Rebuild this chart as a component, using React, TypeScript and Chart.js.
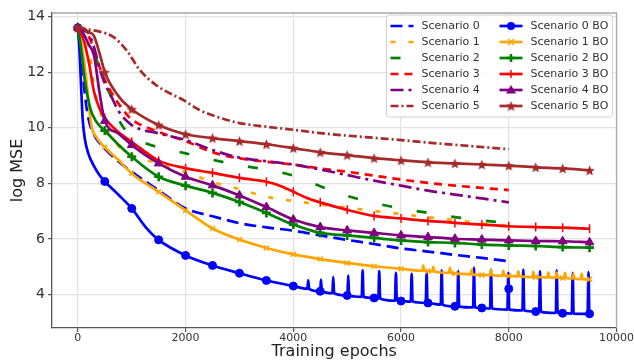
import React, { useEffect, useRef } from 'react';
import { Chart, registerables } from 'chart.js';

Chart.register(...registerables);

// ---------- tick labels ----------
const xTickValues = [0, 2000, 4000, 6000, 8000, 10000];
const yTickValues = [4, 6, 8, 10, 12, 14];

// ---------- plain scenarios (no markers, end at 8000) ----------
const s0Epochs = [0, 50, 100, 150, 200, 300, 500, 750, 1000, 1500, 2000, 2500, 3000, 3500, 4000, 4500, 5000, 5500, 6000, 6500, 7000, 7500, 8000];
const s0Values = [13.6, 12.9, 11.8, 10.9, 10.3, 9.75, 9.25, 8.8, 8.42, 7.75, 7.1, 6.82, 6.57, 6.42, 6.3, 6.13, 5.97, 5.82, 5.66, 5.55, 5.43, 5.32, 5.2];

const s1Epochs = [0, 100, 150, 200, 250, 300, 400, 500, 750, 1000, 1500, 2000, 2500, 3000, 3500, 4000, 4500, 5000, 5500, 6000, 6500, 7000, 7500, 8000];
const s1Values = [13.6, 13.5, 13.3, 12.9, 12.3, 11.5, 10.7, 10.1, 9.35, 9.02, 8.72, 8.4, 8.05, 7.8, 7.52, 7.37, 7.24, 7.13, 7.01, 6.9, 6.78, 6.68, 6.56, 6.48];

const s2Epochs = [0, 100, 200, 300, 400, 500, 600, 800, 1000, 1250, 1500, 2000, 2500, 3000, 3500, 4000, 4500, 5000, 5500, 6000, 6500, 7000, 7500, 8000];
const s2Values = [13.6, 13.55, 13.3, 12.8, 12.1, 11.6, 11.2, 10.15, 9.75, 9.45, 9.3, 9.08, 8.85, 8.65, 8.5, 8.28, 7.9, 7.55, 7.3, 7.1, 6.94, 6.79, 6.67, 6.57];

const s3Epochs = [0, 200, 300, 400, 500, 600, 750, 900, 1000, 1500, 2000, 2500, 3000, 3500, 4000, 4500, 5000, 5500, 6000, 6500, 7000, 7500, 8000];
const s3Values = [13.6, 13.3, 12.8, 12.2, 11.72, 11.35, 10.88, 10.5, 10.3, 9.85, 9.52, 9.12, 8.9, 8.78, 8.68, 8.54, 8.42, 8.28, 8.14, 8.02, 7.92, 7.84, 7.76];

const s4Epochs = [0, 200, 300, 400, 500, 600, 750, 1000, 1500, 2000, 2500, 3000, 3500, 4000, 4500, 5000, 5500, 6000, 6500, 7000, 7500, 8000];
const s4Values = [13.6, 13.4, 12.9, 12.15, 11.6, 11.22, 10.62, 10.1, 9.8, 9.56, 9.2, 8.93, 8.8, 8.68, 8.5, 8.3, 8.1, 7.92, 7.74, 7.6, 7.46, 7.32];

const s5Epochs = [0, 150, 400, 650, 900, 1150, 1450, 2000, 2250, 2500, 3000, 3500, 4000, 4500, 5000, 5500, 6000, 6500, 7000, 7500, 8000];
const s5Values = [13.6, 13.55, 13.46, 13.28, 12.8, 12.08, 11.54, 10.95, 10.65, 10.45, 10.17, 10.04, 9.93, 9.81, 9.72, 9.64, 9.56, 9.47, 9.39, 9.31, 9.23];

// ---------- BO scenarios (markers every 500 epochs, end at 9500) ----------
const b0Epochs = [0, 30, 60, 90, 130, 190, 300, 400, 500, 750, 1000, 1250, 1500, 2000, 2500, 3000, 3500, 4000, 4500, 5000, 5500, 6000, 6500, 7000, 7500, 8000, 8500, 9000, 9500];
const b0Values = [13.6, 12.8, 11.5, 10.3, 9.6, 9.1, 8.62, 8.3, 8.07, 7.6, 7.1, 6.45, 5.97, 5.41, 5.05, 4.77, 4.51, 4.31, 4.12, 3.97, 3.88, 3.77, 3.7, 3.58, 3.52, 4.21, 3.39, 3.33, 3.31];
const b0SpikeEpochs = [4277, 4513, 4741, 5020, 5287, 5595, 5905, 6197, 6475, 6754, 7062, 7354, 7670, 7991, 8270, 8580, 8890, 9187, 9480];
const b0SpikeBase = [4.21, 4.12, 4.05, 3.97, 3.92, 3.86, 3.78, 3.75, 3.7, 3.64, 3.57, 3.54, 3.5, 3.46, 3.43, 3.38, 3.34, 3.32, 3.31];
const b0SpikeTip = [4.51, 4.54, 4.63, 4.69, 4.87, 4.85, 4.78, 4.75, 4.78, 4.87, 4.85, 4.97, 4.9, 4.78, 4.9, 4.85, 4.87, 4.78, 4.81];

const b1Epochs = [0, 50, 100, 160, 250, 350, 500, 750, 1000, 1500, 2000, 2500, 3000, 3500, 4000, 4500, 5000, 5500, 6000, 6500, 7000, 7500, 8000, 8500, 9000, 9500];
const b1Values = [13.6, 13.2, 12.6, 11.7, 10.1, 9.65, 9.3, 8.85, 8.36, 7.7, 7.03, 6.38, 5.98, 5.68, 5.45, 5.28, 5.14, 5.02, 4.93, 4.85, 4.76, 4.71, 4.67, 4.63, 4.6, 4.55];
const b1SpikeEpochs = [6413, 6598, 6908, 7311, 7670, 7898, 8177, 8456, 8735, 8890, 9044, 9198, 9354];
const b1SpikeBase = [4.86, 4.83, 4.78, 4.73, 4.7, 4.68, 4.66, 4.63, 4.62, 4.61, 4.6, 4.58, 4.56];
const b1SpikeTip = [5.04, 5.0, 4.96, 4.9, 4.88, 4.86, 4.84, 4.82, 4.8, 4.79, 4.78, 4.76, 4.75];

const b2Epochs = [0, 50, 130, 230, 350, 500, 750, 1000, 1500, 2000, 2500, 3000, 3500, 4000, 4500, 5000, 5500, 6000, 6500, 7000, 7500, 8000, 8500, 9000, 9500];
const b2Values = [13.6, 13.0, 11.7, 10.7, 10.2, 9.9, 9.4, 8.96, 8.24, 7.92, 7.66, 7.33, 6.94, 6.52, 6.22, 6.13, 6.04, 5.95, 5.89, 5.86, 5.8, 5.77, 5.75, 5.71, 5.69];

const b3Epochs = [0, 100, 200, 300, 400, 500, 750, 1000, 1500, 2000, 2500, 3000, 3500, 3750, 4000, 4250, 4500, 5000, 5500, 6000, 6500, 7000, 7500, 8000, 8500, 9000, 9500];
const b3Values = [13.6, 13.2, 12.4, 11.3, 10.7, 10.35, 9.85, 9.5, 8.82, 8.55, 8.38, 8.2, 8.06, 7.92, 7.7, 7.48, 7.32, 7.05, 6.83, 6.74, 6.65, 6.58, 6.52, 6.46, 6.43, 6.41, 6.37];

const b4Epochs = [0, 100, 200, 300, 400, 500, 750, 1000, 1500, 2000, 2500, 3000, 3500, 4000, 4500, 5000, 5500, 6000, 6500, 7000, 7500, 8000, 8500, 9000, 9500];
const b4Values = [13.6, 13.4, 13.0, 12.6, 11.3, 10.25, 9.8, 9.38, 8.72, 8.24, 7.93, 7.57, 7.15, 6.7, 6.43, 6.31, 6.22, 6.13, 6.07, 6.01, 5.98, 5.95, 5.93, 5.92, 5.88];

const b5Epochs = [0, 100, 200, 300, 400, 500, 750, 1000, 1500, 2000, 2500, 3000, 3500, 4000, 4500, 5000, 5500, 6000, 6500, 7000, 7500, 8000, 8500, 9000, 9500];
const b5Values = [13.6, 13.58, 13.45, 13.3, 12.7, 12.0, 11.15, 10.67, 10.1, 9.77, 9.63, 9.52, 9.41, 9.27, 9.12, 9.02, 8.91, 8.83, 8.76, 8.72, 8.68, 8.64, 8.58, 8.54, 8.47];

const seriesNames = ['Scenario 0', 'Scenario 1', 'Scenario 2', 'Scenario 3', 'Scenario 4', 'Scenario 5',
  'Scenario 0 BO', 'Scenario 1 BO', 'Scenario 2 BO', 'Scenario 3 BO', 'Scenario 4 BO', 'Scenario 5 BO'];

const COLORS = ['#0000ff', '#ffa500', '#008000', '#ff0000', '#800080', '#a52a2a'];
const DASHES = [[12, 6], [5, 13], [10, 25], [8, 6], [13, 5, 3, 5], [8, 3, 2, 3]];
const MARKERS = ['circle', 'xcross', 'plus', 'vline', 'triangle', 'star'];
const FONT = '"DejaVu Sans", "Liberation Sans", sans-serif';
const LINE_W = 2.7;

type Pt = { x: number; y: number; m?: boolean };

function toPoints(ep: number[], vals: number[], marks: boolean): Pt[] {
  return ep.map((e, i) => ({ x: e, y: vals[i], m: marks }));
}

function withSpikes(base: Pt[], se: number[], sb: number[], st: number[]): Pt[] {
  const out = base.slice();
  const half = 17;
  se.forEach((e, i) => {
    out.push({ x: e - half, y: sb[i] });
    out.push({ x: e, y: st[i] });
    out.push({ x: e + half, y: sb[i] });
  });
  out.sort((a, b) => a.x - b.x);
  return out;
}

function makeStar(color: string, size: number): HTMLCanvasElement {
  const c = document.createElement('canvas');
  c.width = size;
  c.height = size;
  const g = c.getContext('2d')!;
  const cx = size / 2, cy = size / 2 + 0.5, ro = size / 2, ri = ro * 0.45;
  g.beginPath();
  for (let i = 0; i < 10; i++) {
    const r = i % 2 === 0 ? ro : ri;
    const a = -Math.PI / 2 + (i * Math.PI) / 5;
    const px = cx + r * Math.cos(a), py = cy + r * Math.sin(a);
    if (i === 0) g.moveTo(px, py); else g.lineTo(px, py);
  }
  g.closePath();
  g.fillStyle = color;
  g.fill();
  return c;
}

function drawMarker(ctx: CanvasRenderingContext2D, kind: string, x: number, y: number, color: string, star: HTMLCanvasElement) {
  ctx.save();
  ctx.setLineDash([]);
  ctx.fillStyle = color;
  ctx.strokeStyle = color;
  if (kind === 'circle') {
    ctx.beginPath(); ctx.arc(x, y, 4, 0, Math.PI * 2); ctx.fill();
  } else if (kind === 'xcross') {
    ctx.lineWidth = 1.5; ctx.beginPath();
    ctx.moveTo(x - 3, y - 3); ctx.lineTo(x + 3, y + 3);
    ctx.moveTo(x - 3, y + 3); ctx.lineTo(x + 3, y - 3); ctx.stroke();
  } else if (kind === 'plus') {
    ctx.lineWidth = 2.5; ctx.beginPath();
    ctx.moveTo(x - 4, y); ctx.lineTo(x + 4, y);
    ctx.moveTo(x, y - 4); ctx.lineTo(x, y + 4); ctx.stroke();
  } else if (kind === 'vline') {
    ctx.lineWidth = 1.5; ctx.beginPath();
    ctx.moveTo(x, y - 4); ctx.lineTo(x, y + 4); ctx.stroke();
  } else if (kind === 'triangle') {
    ctx.beginPath(); ctx.moveTo(x, y - 5); ctx.lineTo(x + 5, y + 3.5); ctx.lineTo(x - 5, y + 3.5); ctx.closePath(); ctx.fill();
  } else if (kind === 'star') {
    ctx.drawImage(star, x - star.width / 2, y - star.height / 2);
  }
  ctx.restore();
}

export default function App() {
  const ref = useRef<HTMLCanvasElement | null>(null);

  useEffect(() => {
    if (!ref.current) return;
    const star = makeStar(COLORS[5], 11);

    const plain = [
      toPoints(s0Epochs, s0Values, false), toPoints(s1Epochs, s1Values, false), toPoints(s2Epochs, s2Values, false),
      toPoints(s3Epochs, s3Values, false), toPoints(s4Epochs, s4Values, false), toPoints(s5Epochs, s5Values, false),
    ];
    const bo = [
      withSpikes(toPoints(b0Epochs, b0Values, true), b0SpikeEpochs, b0SpikeBase, b0SpikeTip),
      withSpikes(toPoints(b1Epochs, b1Values, true), b1SpikeEpochs, b1SpikeBase, b1SpikeTip),
      toPoints(b2Epochs, b2Values, true), toPoints(b3Epochs, b3Values, true),
      toPoints(b4Epochs, b4Values, true), toPoints(b5Epochs, b5Values, true),
    ];

    const markerRadius = [4, 3.5, 4.5, 4.5, 5, 5];
    const markerStyle: any[] = ['circle', 'crossRot', 'cross', 'line', 'triangle', star];
    const markerBorder = [1, 1.5, 2.6, 1.5, 1, 1];

    const datasets: any[] = [];
    plain.forEach((data, i) => {
      datasets.push({
        label: seriesNames[i], data, borderColor: COLORS[i], backgroundColor: COLORS[i],
        borderWidth: LINE_W, borderDash: DASHES[i], pointRadius: 0, pointHoverRadius: 0,
        fill: false, cubicInterpolationMode: 'monotone', order: 12 - i,
      });
    });
    bo.forEach((data, i) => {
      const r = markerRadius[i];
      datasets.push({
        label: seriesNames[6 + i], data, borderColor: COLORS[i], backgroundColor: COLORS[i],
        borderWidth: LINE_W, fill: false, cubicInterpolationMode: 'monotone', order: 6 - i,
        pointStyle: markerStyle[i], pointRotation: i === 3 ? 90 : 0,
        pointBorderWidth: markerBorder[i], pointBorderColor: COLORS[i], pointBackgroundColor: COLORS[i],
        pointRadius: (c: any) => (c.raw && c.raw.m && c.raw.x % 500 === 0 ? r : 0),
        pointHoverRadius: 0,
      });
    });

    const framePlugin = {
      id: 'frame',
      beforeDatasetsDraw(chart: any) {
        const { ctx, chartArea: a } = chart;
        ctx.save();
        ctx.strokeStyle = '#a8a8a8';
        ctx.lineWidth = 1.3;
        ctx.beginPath();
        ctx.moveTo(a.left, a.top); ctx.lineTo(a.right, a.top); ctx.lineTo(a.right, a.bottom);
        ctx.stroke();
        ctx.restore();
      },
    };

    const legendPlugin = {
      id: 'insideLegend',
      afterDatasetsDraw(chart: any) {
        const { ctx, chartArea: a } = chart;
        const bw = 226, bh = 102;
        const bx = a.right - 4 - bw, by = a.top + 2;
        ctx.save();
        ctx.beginPath();
        (ctx as any).roundRect(bx, by, bw, bh, 3);
        ctx.fillStyle = 'rgba(255,255,255,0.85)';
        ctx.fill();
        ctx.strokeStyle = '#d0d0d0';
        ctx.lineWidth = 1;
        ctx.stroke();
        ctx.font = '11px ' + FONT;
        ctx.textBaseline = 'middle';
        ctx.textAlign = 'left';
        for (let col = 0; col < 2; col++) {
          for (let row = 0; row < 6; row++) {
            const idx = col * 6 + row;
            const y = by + 11 + row * 16;
            const hx0 = bx + (col === 0 ? 4 : 113);
            const hx1 = hx0 + 23;
            ctx.save();
            ctx.strokeStyle = COLORS[row];
            ctx.lineWidth = LINE_W;
            ctx.setLineDash(col === 0 ? DASHES[row] : []);
            ctx.beginPath(); ctx.moveTo(hx0, y); ctx.lineTo(hx1, y); ctx.stroke();
            ctx.restore();
            if (col === 1) drawMarker(ctx, MARKERS[row], (hx0 + hx1) / 2, y, COLORS[row], star);
            ctx.fillStyle = '#333';
            ctx.fillText(seriesNames[idx], bx + (col === 0 ? 35 : 144), y + 0.5);
          }
        }
        ctx.restore();
      },
    };

    const chart = new Chart(ref.current, {
      type: 'line',
      data: { datasets },
      plugins: [framePlugin, legendPlugin],
      options: {
        animation: false,
        responsive: false,
        events: [],
        layout: { padding: { top: 13, right: 17, left: 0, bottom: 0 } },
        plugins: { legend: { display: false }, tooltip: { enabled: false } },
        scales: {
          x: {
            type: 'linear', min: -480, max: 10000,
            afterBuildTicks: (axis: any) => { axis.ticks = xTickValues.map((v) => ({ value: v })); },
            afterFit: (axis: any) => { axis.height = 33; },
            ticks: { font: { family: FONT, size: 11 }, color: '#333', padding: 0, maxRotation: 0, autoSkip: false, callback: (v: any) => String(v) },
            grid: { color: '#e2e2e2', lineWidth: 1.2, tickColor: '#555', tickLength: 4 },
            border: { color: '#555', width: 1.3 },
            title: { display: true, text: 'Training epochs', font: { family: FONT, size: 16 }, color: '#222', padding: { top: 0, bottom: 0 } },
          },
          y: {
            type: 'linear', min: 2.8, max: 14.13,
            afterBuildTicks: (axis: any) => { axis.ticks = yTickValues.map((v) => ({ value: v })); },
            afterFit: (axis: any) => { axis.width = 52; },
            ticks: { font: { family: FONT, size: 14 }, color: '#333', padding: 3, autoSkip: false, callback: (v: any) => String(v) },
            grid: { color: '#e2e2e2', lineWidth: 1.2, tickColor: '#555', tickLength: 4 },
            border: { color: '#555', width: 1.3 },
            title: { display: true, text: 'log MSE', font: { family: FONT, size: 16 }, color: '#222', padding: { top: 8, bottom: 0 } },
          },
        },
      } as any,
    });
    return () => chart.destroy();
  }, []);

  return (
    <div style={{ position: 'fixed', left: 0, top: 0, width: 634, height: 361, background: '#fff' }}>
      <canvas ref={ref} width={634} height={361} style={{ display: 'block' }} />
    </div>
  );
}
